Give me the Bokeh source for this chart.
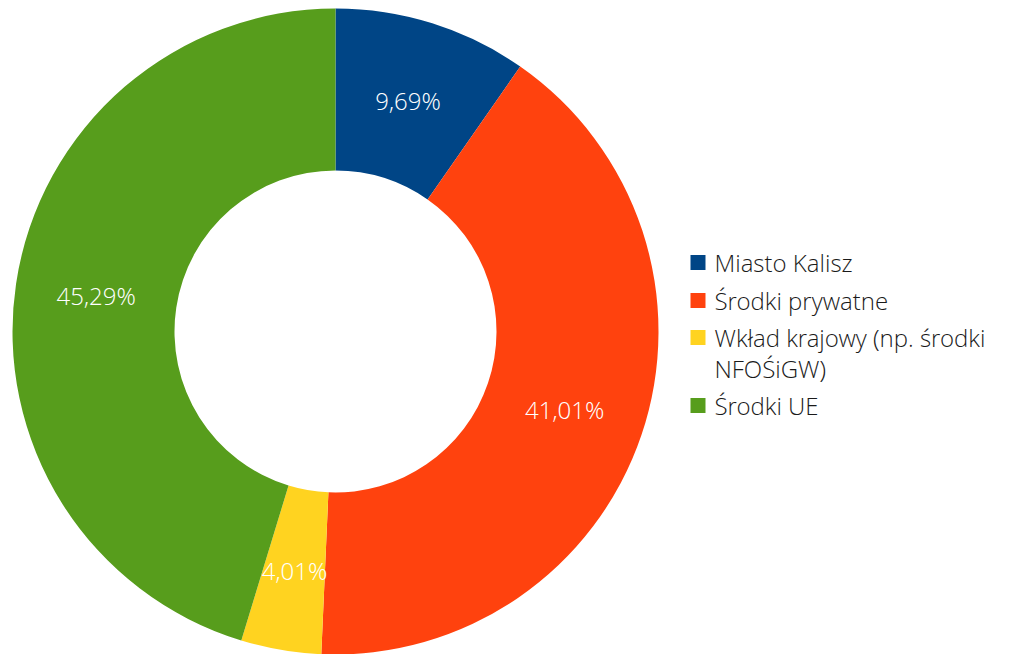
import numpy as np
from bokeh.plotting import figure
from bokeh.models import Range1d, ColumnDataSource
from bokeh.core.properties import value
from bokeh.embed import file_html
from bokeh.resources import INLINE

categories = ["Miasto Kalisz", "Środki prywatne", "Wkład krajowy (np.  środki\nNFOŚiGW)", "Środki UE"]
shares = [9.69, 41.01, 4.01, 45.29]
labels = ["9,69%", "41,01%", "4,01%", "45,29%"]
colors = ["#004586", "#FF420E", "#FFD320", "#579D1C"]

W, H = 1020, 654
p = figure(width=W, height=H, output_backend="svg", toolbar_location=None,
           x_range=Range1d(0, W), y_range=Range1d(0, H), min_border=0)
p.axis.visible = False
p.grid.visible = False
p.outline_line_color = None
p.background_fill_color = "white"

cx, cy = 335, H - 331
r_out, r_in = 323, 161

vals = np.array(shares)
frac = vals / vals.sum()
cum = np.concatenate([[0], np.cumsum(frac)])
start = np.pi / 2 - cum[:-1] * 2 * np.pi
end = np.pi / 2 - cum[1:] * 2 * np.pi
mid = (start + end) / 2
rm = (r_out + r_in) / 2

FONT = value("'Open Sans Light', 'Open Sans'")

src = ColumnDataSource(dict(start=start, end=end, color=colors,
                            lx=cx + rm * np.cos(mid), ly=cy + rm * np.sin(mid), lab=labels))
p.annular_wedge(x=cx, y=cy, inner_radius=r_in, outer_radius=r_out,
                start_angle="start", end_angle="end", direction="clock",
                fill_color="color", line_color=None, source=src)
p.text(x="lx", y="ly", text="lab", source=src, text_color="white",
       text_font=FONT, text_font_size="24px",
       text_align="center", text_baseline="middle")

# legend
row_y = [262, 300, 352.5, 405]
sq_y = [262, 300, 337, 405]
lsrc = ColumnDataSource(dict(x=[697.5] * 4, y=[H - v for v in sq_y], color=colors,
                             tx=[714] * 4, ty=[H - v for v in row_y], lab=categories))
p.rect(x="x", y="y", width=15, height=15, fill_color="color", line_color=None, source=lsrc)
p.text(x="tx", y="ty", text="lab", source=lsrc, text_color="#1a1a1a",
       text_font=FONT, text_font_size="24px", text_align="left",
       text_baseline="middle", text_line_height=0.95)

open("out.html", "w").write(file_html(p, INLINE))
